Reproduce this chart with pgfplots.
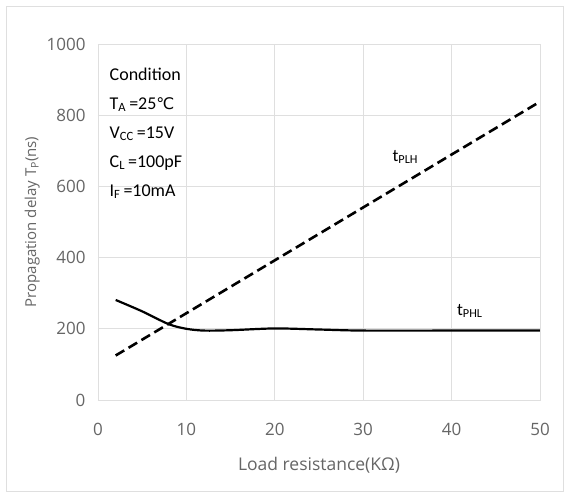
\documentclass[border=0pt]{standalone}
\usepackage{pgfplots}
\pgfplotsset{compat=1.18}
\usepackage{fontspec}
\setmainfont{Carlito}
\newfontfamily\tickfont{Open Sans}
\newfontfamily\symfont{DejaVu Sans}
\begin{document}
\begin{tikzpicture}
\path[fill=white] (-98pt,-96pt) rectangle (470pt,400pt);
\draw[gray!25, line width=0.8pt] (-92pt,-91pt) rectangle (465pt,394pt);
\begin{axis}[
    at={(0pt,0pt)}, anchor=south west,
    scale only axis,
    width=442pt, height=356pt,
    xmin=0, xmax=50, ymin=0, ymax=1000,
    xtick={0,10,...,50}, ytick={0,200,...,1000},
    grid=major,
    grid style={gray!25, line width=0.8pt},
    axis line style={gray!25, line width=0.8pt},
    major tick length=0pt,
    tick label style={text=gray!80!black, font=\tickfont\fontsize{17}{17}\selectfont},
    /pgf/number format/assume math mode=true,
    /pgf/number format/set thousands separator={},
    xticklabel style={yshift=-20pt},
    yticklabel style={xshift=-9pt},
    xlabel={Load resistance(KΩ)},
    ylabel={Propagation delay T\textsubscript{P}(ns)},
    label style={text=gray!80!black, font=\tickfont\fontsize{15}{15}\selectfont},
    xlabel style={yshift=-14pt, font=\tickfont\fontsize{17.5}{17.5}\selectfont},
    ylabel style={yshift=0pt},
    clip=false,
]
\addplot[black, line width=2.6pt, dash pattern=on 10pt off 5pt] coordinates {
    (2,125) (50,838)
};
\addplot[black, line width=2.2pt, smooth] coordinates {
    (2,281) (5,249) (8,213) (10,200) (12,195) (15,196) (20,201) (25,198) (30,195) (40,195) (50,195)
};
\node[anchor=west, font=\fontsize{17.5}{17.5}\selectfont, inner sep=0pt] at (axis cs:33.3,683) {t\textsubscript{PLH}};
\node[anchor=west, font=\fontsize{17.5}{17.5}\selectfont, inner sep=0pt] at (axis cs:40.6,250) {t\textsubscript{PHL}};
\node[anchor=north west, align=left, font=\fontsize{18}{29}\selectfont, inner sep=0pt] at (axis cs:1.3,934) {%
Condition\\
T\textsubscript{A}\,=25{\symfont\fontsize{16}{16}\selectfont ℃}\\
V\textsubscript{CC}\,=15V\\
C\textsubscript{L}\,=100pF\\
I\textsubscript{F}\,=10mA};
\end{axis}
\end{tikzpicture}
\end{document}
